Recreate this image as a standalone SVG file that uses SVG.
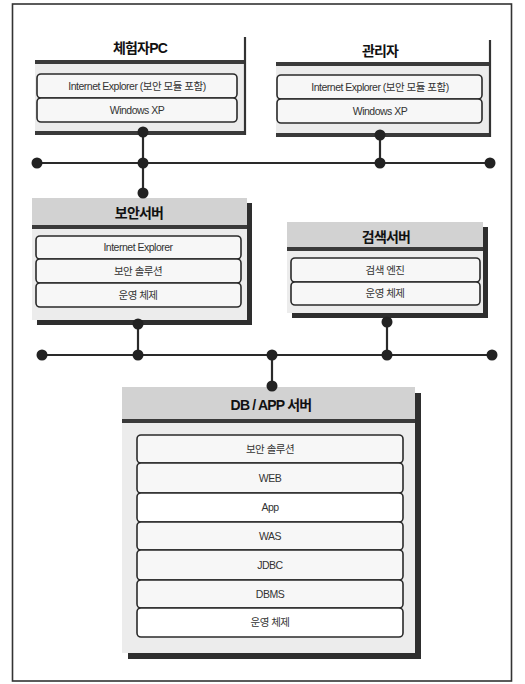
<svg xmlns="http://www.w3.org/2000/svg" width="525" height="684" viewBox="0 0 525 684">
<style>
.frame{fill:#fff;stroke:#333;stroke-width:1.6}
.body{fill:#ececec}
.head{fill:#d2d2d2}
.shadow{fill:#2e2e2e}
.bar{stroke:#3a3a3a;stroke-width:4;fill:none}
.vline{stroke:#333;stroke-width:2.2;fill:none}
.row{fill:#f7f7f7;stroke:#2a2a2a;stroke-width:1.6}
.t{font-family:"Liberation Sans","Noto Sans CJK KR",sans-serif;text-anchor:middle;fill:#222}
.title{font-size:14px;font-weight:bold;letter-spacing:-0.8px;fill:#111}
.lbl{font-size:10.5px;letter-spacing:-0.5px;fill:#333}
.wire{stroke:#2a2a2a;stroke-width:2.2;fill:none}
.dot{fill:#222}
</style>
<rect class="frame" x="12.5" y="4" width="499" height="677"/>

<g id="user-pc">
  <rect class="body" x="35" y="62" width="210" height="71"/>
  <line class="bar" x1="35" y1="62" x2="245" y2="62"/>
  <line class="bar" x1="35" y1="133" x2="245" y2="133"/>
  <line class="vline" x1="245" y1="37" x2="245" y2="135"/>
  <text class="t title" x="140" y="53">체험자PC</text>
  <rect class="row" x="37" y="74" width="200" height="24" rx="4"/>
  <rect class="row" x="37" y="98" width="200" height="24" rx="4"/>
  <text class="t lbl" x="137" y="90">Internet Explorer (보안 모듈 포함)</text>
  <text class="t lbl" x="137" y="114">Windows XP</text>
</g>

<g id="admin">
  <rect class="body" x="276" y="64" width="214" height="71"/>
  <line class="bar" x1="276" y1="64" x2="490" y2="64"/>
  <line class="bar" x1="276" y1="135" x2="490" y2="135"/>
  <line class="vline" x1="490" y1="40" x2="490" y2="137"/>
  <text class="t title" x="380" y="56">관리자</text>
  <rect class="row" x="277" y="75" width="205" height="24" rx="4"/>
  <rect class="row" x="277" y="99" width="205" height="24" rx="4"/>
  <text class="t lbl" x="380" y="91">Internet Explorer (보안 모듈 포함)</text>
  <text class="t lbl" x="380" y="115">Windows XP</text>
</g>

<g id="security-server">
  <rect class="shadow" x="37" y="203" width="215" height="122"/>
  <rect class="body" x="32" y="198" width="215" height="122"/>
  <rect class="head" x="32" y="198" width="215" height="28"/>
  <line class="bar" x1="32" y1="227" x2="247" y2="227"/>
  <text class="t title" x="139" y="218">보안서버</text>
  <rect class="row" x="36" y="236" width="205" height="23" rx="4"/>
  <rect class="row" x="36" y="259" width="205" height="24" rx="4"/>
  <rect class="row" x="36" y="283" width="205" height="24" rx="4"/>
  <text class="t lbl" x="138" y="251">Internet Explorer</text>
  <text class="t lbl" x="138" y="275">보안 솔루션</text>
  <text class="t lbl" x="138" y="299">운영 체제</text>
</g>

<g id="search-server">
  <rect class="shadow" x="292" y="227" width="196" height="91"/>
  <rect class="body" x="287" y="222" width="196" height="91"/>
  <rect class="head" x="287" y="222" width="196" height="26"/>
  <line class="bar" x1="287" y1="249" x2="483" y2="249"/>
  <text class="t title" x="386" y="242">검색서버</text>
  <rect class="row" x="291" y="258" width="189" height="24" rx="4"/>
  <rect class="row" x="291" y="282" width="189" height="23" rx="4"/>
  <text class="t lbl" x="385" y="274">검색 엔진</text>
  <text class="t lbl" x="385" y="297">운영 체제</text>
</g>

<g id="db-app-server">
  <rect class="shadow" x="128" y="393" width="293" height="266"/>
  <rect class="body" x="122" y="387" width="293" height="266"/>
  <rect class="head" x="122" y="387" width="293" height="33"/>
  <line class="bar" x1="122" y1="421" x2="415" y2="421"/>
  <text class="t title" x="271" y="410">DB / APP 서버</text>
  <rect class="row" x="137" y="435" width="266" height="28" rx="4"/>
  <rect class="row" x="137" y="463" width="266" height="30" rx="4"/>
  <rect class="row" x="137" y="493" width="266" height="29" rx="4" style="fill:#fff"/>
  <rect class="row" x="137" y="522" width="266" height="28" rx="4"/>
  <rect class="row" x="137" y="550" width="266" height="30" rx="4"/>
  <rect class="row" x="137" y="580" width="266" height="28" rx="4"/>
  <rect class="row" x="137" y="608" width="266" height="29" rx="4" style="fill:#fff"/>
  <text class="t lbl" x="270" y="453">보안 솔루션</text>
  <text class="t lbl" x="270" y="482">WEB</text>
  <text class="t lbl" x="270" y="511">App</text>
  <text class="t lbl" x="270" y="540">WAS</text>
  <text class="t lbl" x="270" y="569">JDBC</text>
  <text class="t lbl" x="270" y="598">DBMS</text>
  <text class="t lbl" x="270" y="626">운영 체제</text>
</g>

<g id="connectors">
  <line class="wire" x1="37" y1="163" x2="490" y2="163"/>
  <line class="wire" x1="143" y1="132" x2="143" y2="193"/>
  <line class="wire" x1="380" y1="135" x2="380" y2="163"/>
  <line class="wire" x1="42" y1="355" x2="492" y2="355"/>
  <line class="wire" x1="138" y1="324" x2="138" y2="355"/>
  <line class="wire" x1="387" y1="322" x2="387" y2="355"/>
  <line class="wire" x1="272" y1="355" x2="272" y2="386"/>
  <circle class="dot" cx="37" cy="163" r="5.5"/>
  <circle class="dot" cx="143" cy="163" r="5.5"/>
  <circle class="dot" cx="380" cy="163" r="5.5"/>
  <circle class="dot" cx="490" cy="163" r="5.5"/>
  <circle class="dot" cx="143" cy="132" r="5.5"/>
  <circle class="dot" cx="380" cy="135" r="5.5"/>
  <circle class="dot" cx="143" cy="193" r="5.5"/>
  <circle class="dot" cx="42" cy="355" r="5.5"/>
  <circle class="dot" cx="138" cy="355" r="5.5"/>
  <circle class="dot" cx="272" cy="355" r="5.5"/>
  <circle class="dot" cx="387" cy="355" r="5.5"/>
  <circle class="dot" cx="492" cy="355" r="5.5"/>
  <circle class="dot" cx="138" cy="324" r="5.5"/>
  <circle class="dot" cx="387" cy="322" r="5.5"/>
  <circle class="dot" cx="272" cy="386" r="5.5"/>
</g>
</svg>
